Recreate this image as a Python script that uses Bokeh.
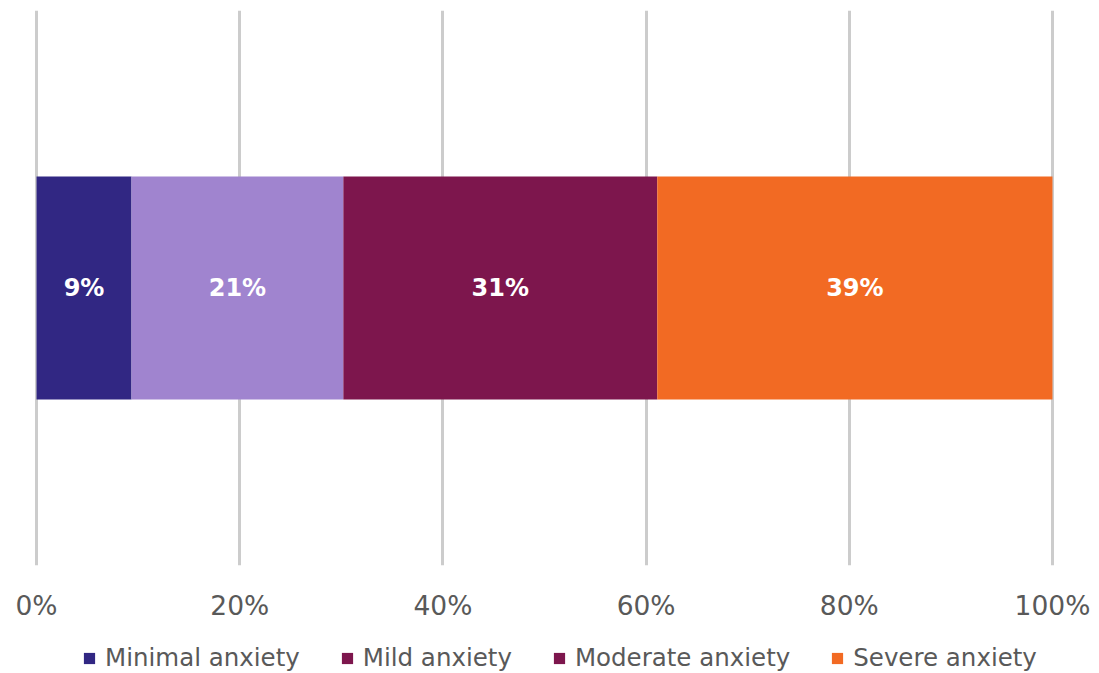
from bokeh.plotting import figure
from bokeh.layouts import column
from bokeh.models import ColumnDataSource, Range1d, FixedTicker, Legend, LegendItem
from bokeh.core.properties import value
from bokeh.embed import file_html
from bokeh.resources import INLINE

# ---- data ----
categories = ["Minimal anxiety", "Mild anxiety", "Moderate anxiety", "Severe anxiety"]
shares = [9.35, 20.85, 30.9, 38.9]
bar_labels = ["9%", "21%", "31%", "39%"]
bar_colors = ["#312783", "#A084CF", "#7D164D", "#F26A23"]
legend_colors = ["#312783", "#7D164D", "#7D164D", "#F26A23"]
tick_values = [0, 20, 40, 60, 80, 100]
tick_labels = ["0%", "20%", "40%", "60%", "80%", "100%"]

lefts, rights = [], []
acc = 0.0
for s in shares:
    lefts.append(acc)
    acc += s
    rights.append(acc)
mids = [(l + r) / 2 for l, r in zip(lefts, rights)]

src = ColumnDataSource(dict(cat=categories, left=lefts, right=rights, mid=mids,
                            y=[0.5] * 4, lab=bar_labels, color=bar_colors))

W = 1092
p = figure(width=W, height=630, output_backend="svg", toolbar_location=None,
           x_range=Range1d(-0.2, 100.2), y_range=Range1d(0, 1))
p.min_border_left = 34
p.min_border_right = 38
p.min_border_top = 10
p.min_border_bottom = 65
p.outline_line_color = None
p.background_fill_color = "white"

p.hbar(y="y", left="left", right="right", height=0.402, fill_color="color",
       line_color=None, source=src)
p.text(x="mid", y="y", text="lab", source=src, text_color="white",
       text_font=value("DejaVu Sans"), text_font_style="bold", text_font_size="24px",
       text_align="center", text_baseline="middle")

# axes & grid
p.yaxis.visible = False
p.ygrid.visible = False
p.xaxis.ticker = FixedTicker(ticks=tick_values)
p.xaxis.major_label_overrides = {v: t for v, t in zip(tick_values, tick_labels)}
p.xaxis.axis_line_color = None
p.xaxis.major_tick_line_color = None
p.xaxis.minor_tick_line_color = None
p.xaxis.major_label_standoff = 18
p.xaxis.major_label_text_font = "DejaVu Sans"
p.xaxis.major_label_text_font_size = "26.5px"
p.xaxis.major_label_text_color = "#595959"
p.xgrid.ticker = FixedTicker(ticks=tick_values)
p.xgrid.grid_line_color = "#CCCCCC"
p.xgrid.grid_line_width = 3

# legend strip (swatch colours as shown in the reference legend)
lg = figure(width=W, height=43, output_backend="svg", toolbar_location=None,
            x_range=Range1d(0, 1), y_range=Range1d(0, 1))
lg.min_border_left = 34
lg.min_border_right = 38
lg.min_border_top = lg.min_border_bottom = 0
lg.outline_line_color = None
lg.axis.visible = False
lg.grid.visible = False
items = []
for name, col in zip(categories, legend_colors):
    # off-range proxy glyph: only its swatch is shown in the legend
    r = lg.hbar(y=[-5], left=[0], right=[0], height=0.1, fill_color=col, line_color=None)
    items.append(LegendItem(label=name, renderers=[r]))

legend = Legend(items=items, orientation="horizontal", location=(48, 1))
legend.glyph_width = 14
legend.glyph_height = 14
legend.label_standoff = 9
legend.spacing = 40
legend.padding = 0
legend.margin = 0
legend.label_height = 24
legend.border_line_color = None
legend.background_fill_alpha = 0
legend.label_text_font = "DejaVu Sans"
legend.label_text_font_size = "24.5px"
legend.label_text_color = "#595959"
lg.add_layout(legend, "center")

layout = column(p, lg, spacing=0)
open("out.html", "w").write(file_html(layout, INLINE))
